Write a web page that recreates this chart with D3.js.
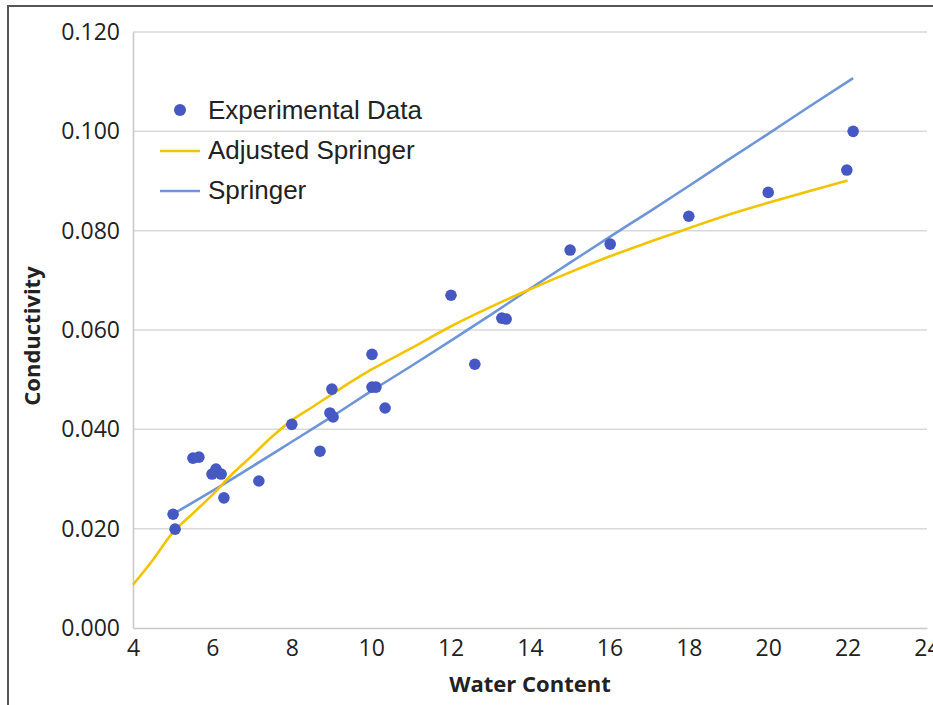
<!DOCTYPE html>
<html>
<head>
<meta charset="utf-8">
<script src="https://cdn.jsdelivr.net/npm/d3@7"></script>
<style>
  html, body { margin: 0; padding: 0; background: #fff; overflow: hidden; }
  svg { display: block; }
</style>
</head>
<body>
<svg id="chart" width="933" height="705"></svg>
<script>
// Experimental data (Water Content, Conductivity)
const expX = [5.01, 5.06, 5.51, 5.66, 5.99, 6.09, 6.22, 6.29, 7.17, 8.00, 8.71, 9.01, 8.96, 9.04, 10.02, 10.02, 10.12, 10.35, 12.01, 12.61, 13.29, 13.40, 15.01, 16.02, 18.00, 20.00, 21.98, 22.14];
const expY = [0.0229, 0.0199, 0.0342, 0.0344, 0.0310, 0.0320, 0.0310, 0.0262, 0.0296, 0.0410, 0.0356, 0.0481, 0.0433, 0.0425, 0.0551, 0.0485, 0.0485, 0.0443, 0.0670, 0.0531, 0.0624, 0.0622, 0.0761, 0.0773, 0.0829, 0.0877, 0.0922, 0.1000];

// Adjusted Springer curve
const adjX = [4, 4.5, 5, 5.5, 6, 6.5, 7, 7.5, 8, 8.5, 9, 9.5, 10, 11, 12, 13, 14, 15, 16, 17, 18, 19, 20, 21, 22];
const adjY = [0.0087, 0.0137, 0.0192, 0.0230, 0.0268, 0.0310, 0.0347, 0.0385, 0.0418, 0.0444, 0.0470, 0.0496, 0.0520, 0.0563, 0.0607, 0.0646, 0.0682, 0.0716, 0.0748, 0.0777, 0.0805, 0.0832, 0.0856, 0.0879, 0.0901];

// Springer curve
const sprX = [5, 6, 7, 8, 9, 10, 11, 12, 13, 14, 15, 16, 17, 18, 19, 20, 21, 22.14];
const sprY = [0.0229, 0.0276, 0.0325, 0.0375, 0.0425, 0.0477, 0.0527, 0.0578, 0.0630, 0.0683, 0.0735, 0.0787, 0.0838, 0.0890, 0.0943, 0.0995, 0.1048, 0.1107];

const xTicks = [4, 6, 8, 10, 12, 14, 16, 18, 20, 22, 24];
const yTicks = [0, 0.02, 0.04, 0.06, 0.08, 0.10, 0.12];

const legendLabels = ["Experimental Data", "Adjusted Springer", "Springer"];

const colDot = "#4659c2";
const colAdj = "#f2c400";
const colSpr = "#6d95d8";

const svg = d3.select("#chart");
const x = d3.scaleLinear().domain([4, 24]).range([133, 927]);
const y = d3.scaleLinear().domain([0, 0.12]).range([628, 32]);

// outer frame
svg.append("rect").attr("x", 8).attr("y", 6).attr("width", 1000).attr("height", 1000)
  .attr("fill", "none").attr("stroke", "#555").attr("stroke-width", 2);

// gridlines
svg.append("g").selectAll("line").data(yTicks.filter(d => d > 0)).join("line")
  .attr("x1", x(4)).attr("x2", x(24))
  .attr("y1", d => y(d)).attr("y2", d => y(d))
  .attr("stroke", "#d9d9d9").attr("stroke-width", 1.5);

// y axis
const yAxis = d3.axisLeft(y).tickValues(yTicks).tickFormat(d3.format(".3f")).tickSize(0).tickPadding(13);
const gy = svg.append("g").attr("transform", `translate(${x(4)},0)`).call(yAxis);
gy.select(".domain").attr("stroke", "#c8c8c8").attr("stroke-width", 1.5);
gy.selectAll("text").attr("font-family", "'Open Sans', sans-serif").attr("font-size", 23).attr("fill", "#222");

// x axis
const xAxis = d3.axisBottom(x).tickValues(xTicks).tickFormat(d3.format("d")).tickSize(0).tickPadding(12);
const gx = svg.append("g").attr("transform", `translate(0,${y(0)})`).call(xAxis);
gx.select(".domain").attr("stroke", "#c8c8c8").attr("stroke-width", 1.5);
gx.selectAll("text").attr("font-family", "'Open Sans', sans-serif").attr("font-size", 23).attr("fill", "#222");

// axis titles
svg.append("text").attr("x", 530).attr("y", 692).attr("text-anchor", "middle")
  .attr("font-family", "'Open Sans', sans-serif").attr("font-weight", "bold").attr("font-size", 22)
  .attr("fill", "#222").text("Water Content");
svg.append("text").attr("transform", "translate(40,336) rotate(-90)").attr("text-anchor", "middle")
  .attr("font-family", "'Open Sans', sans-serif").attr("font-weight", "bold").attr("font-size", 22)
  .attr("fill", "#222").text("Conductivity");

// lines
const line = d3.line().x(d => x(d[0])).y(d => y(d[1])).curve(d3.curveMonotoneX);
const adjData = adjX.map((v, i) => [v, adjY[i]]);
const sprData = sprX.map((v, i) => [v, sprY[i]]);

svg.append("path").datum(sprData).attr("d", line).attr("fill", "none")
  .attr("stroke", colSpr).attr("stroke-width", 2.6);
svg.append("path").datum(adjData).attr("d", line).attr("fill", "none")
  .attr("stroke", colAdj).attr("stroke-width", 2.6);

// points
svg.append("g").selectAll("circle").data(expX.map((v, i) => [v, expY[i]])).join("circle")
  .attr("cx", d => x(d[0])).attr("cy", d => y(d[1])).attr("r", 5.8).attr("fill", colDot);

// legend
const lg = svg.append("g").attr("font-family", "'Liberation Sans', Arial, sans-serif").attr("font-size", 26).attr("fill", "#222");
lg.append("circle").attr("cx", 180).attr("cy", 110).attr("r", 6).attr("fill", colDot);
lg.append("line").attr("x1", 160).attr("x2", 200).attr("y1", 151).attr("y2", 151).attr("stroke", colAdj).attr("stroke-width", 2.6);
lg.append("line").attr("x1", 160).attr("x2", 200).attr("y1", 191).attr("y2", 191).attr("stroke", colSpr).attr("stroke-width", 2.6);
lg.selectAll("text").data(legendLabels).join("text")
  .attr("x", 208).attr("y", (d, i) => 119 + i * 40).text(d => d);
</script>
</body>
</html>
